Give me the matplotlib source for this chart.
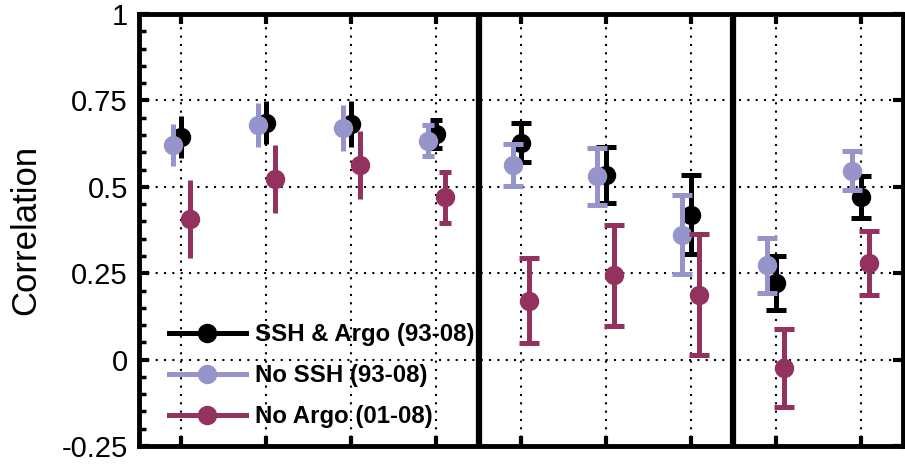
import matplotlib
matplotlib.use("Agg")
import matplotlib.pyplot as plt
from matplotlib.lines import Line2D
from matplotlib.ticker import MultipleLocator
import numpy as np

plt.rcParams['font.family'] = ['Liberation Sans', 'DejaVu Sans']

# ---- data ----
groups = [1, 2, 3, 4, 5, 6, 7, 8, 9]
series_names = ["SSH & Argo (93-08)", "No SSH (93-08)", "No Argo (01-08)"]
ssh_argo_vals = [0.645, 0.686, 0.681, 0.653, 0.628, 0.533, 0.419, 0.222, 0.470]
ssh_argo_err = [0.061, 0.062, 0.066, 0.041, 0.057, 0.081, 0.114, 0.078, 0.061]
no_ssh_vals = [0.621, 0.679, 0.671, 0.634, 0.564, 0.530, 0.361, 0.273, 0.547]
no_ssh_err = [0.062, 0.063, 0.067, 0.045, 0.061, 0.083, 0.114, 0.080, 0.056]
no_argo_vals = [0.407, 0.523, 0.563, 0.470, 0.171, 0.244, 0.188, -0.024, 0.279]
no_argo_err = [0.112, 0.099, 0.099, 0.074, 0.122, 0.147, 0.176, 0.112, 0.093]
ytick_vals = [-0.25, 0, 0.25, 0.5, 0.75, 1]
ytick_labels = ["-0.25", "0", "0.25", "0.5", "0.75", "1"]
separators = [4.5, 7.5]

colors = ["#000000", "#9595cb", "#94325f"]
offsets = [0.0, -0.1, 0.1]
capsizes = [0, 0, 0, 4, 7, 7, 7, 7, 7]

fig = plt.figure(figsize=(9.05, 4.69), dpi=100)
ax = fig.add_axes([0.1536, 0.049, 0.8442, 0.921])

ax.set_xlim(0.5, 9.5)
ax.set_ylim(-0.25, 1)

vals = [ssh_argo_vals, no_ssh_vals, no_argo_vals]
errs = [ssh_argo_err, no_ssh_err, no_argo_err]
x = np.array(groups, dtype=float)
for s in range(3):
    for i in range(len(groups)):
        ax.errorbar(x[i] + offsets[s], vals[s][i], yerr=errs[s][i],
                    fmt='o', color=colors[s], ms=13, elinewidth=3.6,
                    capsize=capsizes[i], capthick=3.6, zorder=3 + s)

for sx in separators:
    ax.axvline(sx, color='black', lw=4.5, zorder=10)

ax.set_xticks(groups)
ax.set_xticklabels([])
ax.set_yticks(ytick_vals)
ax.set_yticklabels(ytick_labels, fontsize=21)
ax.yaxis.set_minor_locator(MultipleLocator(0.05))
ax.tick_params(axis='x', which='major', direction='in', top=True, bottom=True,
               length=7, width=3)
ax.tick_params(axis='y', which='major', direction='in', left=True, right=True,
               length=7, width=3, pad=8)
ax.tick_params(axis='y', which='minor', direction='in', left=True, right=False,
               length=5, width=2.5)
ax.grid(True, which='major', linestyle=(0, (1, 3)), color='black', lw=1.5)
ax.set_axisbelow(True)
for sp in ax.spines.values():
    sp.set_linewidth(3.5)

ax.set_ylabel("Correlation", fontsize=25)
ax.yaxis.set_label_coords(-0.127, 0.5)

handles = [Line2D([0], [0], color=colors[s], lw=3.6, marker='o', ms=13)
           for s in range(3)]
leg = ax.legend(handles, series_names, loc='lower left',
                bbox_to_anchor=(0.017, 0.002), frameon=False,
                prop={'weight': 'bold', 'size': 17.3}, handlelength=3.2,
                labelspacing=0.75, handletextpad=0.4, borderaxespad=0.3)

fig.savefig("out.png", dpi=100)
